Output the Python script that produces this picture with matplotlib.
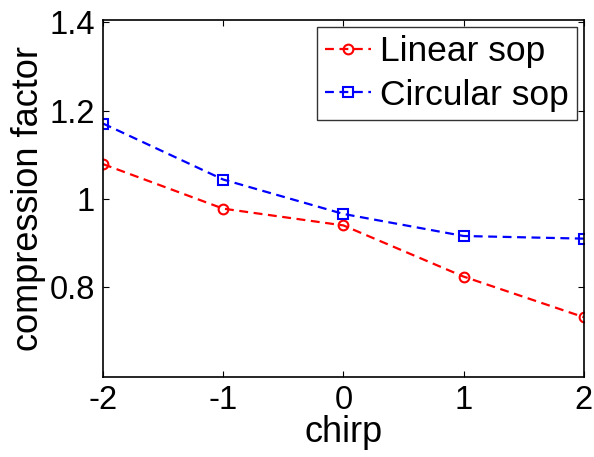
import matplotlib
matplotlib.use("Agg")
import matplotlib.pyplot as plt

chirp = [-2, -1, 0, 1, 2]
linear_sop = [1.079, 0.978, 0.940, 0.824, 0.732]
circular_sop = [1.171, 1.044, 0.966, 0.916, 0.910]
x_ticks = [-2, -1, 0, 1, 2]
x_tick_labels = ["-2", "-1", "0", "1", "2"]
y_ticks = [0.8, 1.0, 1.2, 1.4]
y_tick_labels = ["0.8", "1", "1.2", "1.4"]


def main():
    """Compression factor against chirp for two polarisation states."""

    plt.rcParams["font.family"] = ["Liberation Sans", "DejaVu Sans"]
    plt.rcParams["axes.unicode_minus"] = False
    fig = plt.figure(figsize=(5.94, 4.57), dpi=100)
    ax = fig.add_axes([0.1734, 0.1757, 0.8093, 0.7799])

    ax.plot(chirp, linear_sop, "r--o", lw=1.6, ms=7, mew=1.5,
            mfc="none", dashes=(4, 2.5), label="Linear sop")
    ax.plot(chirp, circular_sop, "b--s", lw=1.6, ms=7, mew=1.5,
            mfc="none", dashes=(4, 2.5), label="Circular sop")

    ax.set_xlim(-2, 2)
    ax.set_ylim(0.597, 1.405)
    ax.set_xticks(x_ticks)
    ax.set_xticklabels(x_tick_labels)
    ax.set_yticks(y_ticks)
    ax.set_yticklabels(y_tick_labels)
    ax.tick_params(direction="in", length=4, width=0.8, labelsize=23.5,
                   top=True, right=True, pad=6)
    for s in ax.spines.values():
        s.set_linewidth(1.2)

    ax.set_xlabel("chirp", fontsize=26, labelpad=-1)
    ax.set_ylabel("compression factor", fontsize=26, labelpad=2)

    leg = ax.legend(loc="upper right", fontsize=25.5, frameon=True,
                    fancybox=False, edgecolor="black", borderpad=0.22,
                    handlelength=1.3, handletextpad=0.25, labelspacing=0.3,
                    borderaxespad=0.2)
    leg.get_frame().set_linewidth(1.0)

    fig.savefig("out.png", dpi=100)


if __name__ == "__main__":
    main()
